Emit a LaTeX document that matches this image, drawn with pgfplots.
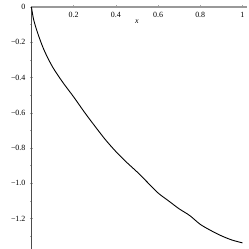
\documentclass[border=0pt]{standalone}
\usepackage{fontspec}
\setmainfont{Liberation Serif}
\usepackage{pgfplots}
\pgfplotsset{compat=1.18}
\begin{document}
\begin{tikzpicture}
\begin{axis}[
  scale only axis,
  width=215.5bp, height=242bp,
  xmin=0, xmax=1.02, ymin=-1.371, ymax=0,
  axis x line*=top, axis y line*=left,
  x axis line style={draw=gray!80, line width=1.3pt},
  y axis line style={draw=black!70, line width=0.7pt},
  xtick={0.2,0.4,0.6,0.8,1},
  xticklabels={0.2,0.4,0.6,0.8,1},
  minor xtick={0.1,0.3,0.5,0.7,0.9},
  ytick={0,-0.2,-0.4,-0.6,-0.8,-1.0,-1.2},
  yticklabels={0,−0.2,−0.4,−0.6,−0.8,−1.0,−1.2},
  minor ytick={-0.1,-0.3,-0.5,-0.7,-0.9,-1.1,-1.3},
  tick style={draw=gray!70, line width=0.4pt},
  major tick length=3bp, minor tick length=2bp,
  tick align=center,
  xticklabel pos=right,
  x tick label style={font=\fontsize{8}{9}\selectfont, anchor=north, yshift=-3bp},
  y tick label style={font=\fontsize{8}{9}\selectfont, anchor=east, xshift=-1bp},
  /pgf/number format/assume math mode=true,
  clip=false,
]
\addplot[black, line width=0.9pt, smooth] coordinates {
(0,0) (0.01,-0.07) (0.03,-0.15) (0.06,-0.245) (0.10,-0.34) (0.15,-0.43)
(0.20,-0.51) (0.25,-0.595) (0.30,-0.675) (0.35,-0.752) (0.40,-0.82)
(0.45,-0.88) (0.50,-0.935) (0.55,-0.995) (0.60,-1.055) (0.65,-1.10)
(0.70,-1.145) (0.75,-1.183) (0.80,-1.233) (0.85,-1.268) (0.90,-1.298)
(0.95,-1.322) (1.00,-1.338)
};
\node[font=\fontsize{8}{9}\selectfont\itshape] at (axis cs:0.5,-0.085) {x};
\coordinate (A) at (rel axis cs:0,0);
\coordinate (B) at (rel axis cs:1,1);
\end{axis}
\path ([xshift=-31.5bp]A) rectangle ([xshift=2bp,yshift=7bp]B);
\end{tikzpicture}
\end{document}
